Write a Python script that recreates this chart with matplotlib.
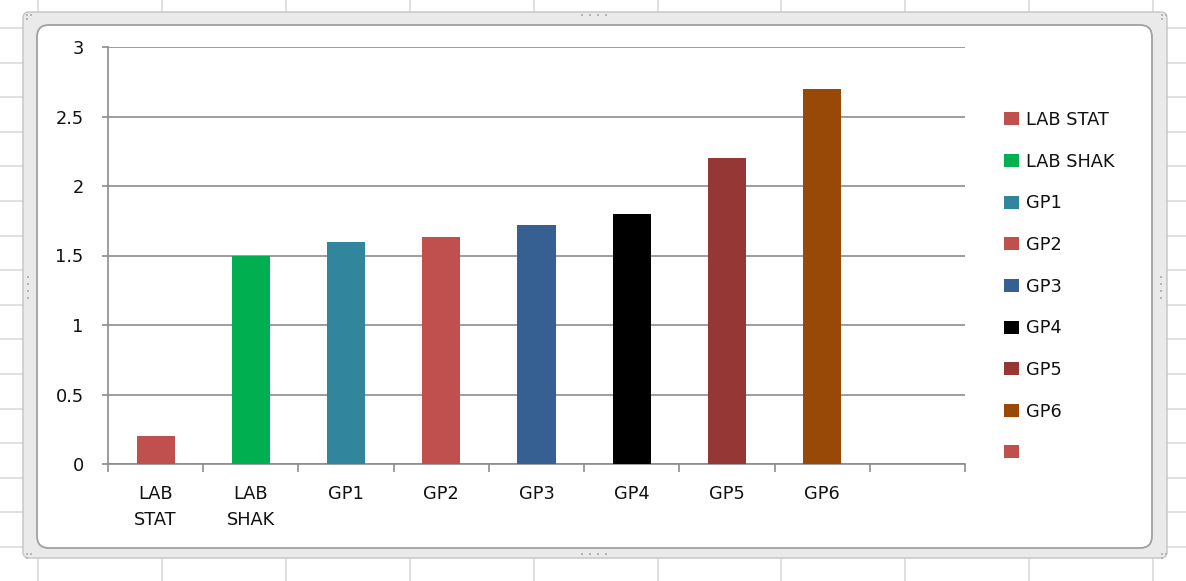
import matplotlib.pyplot as plt
import numpy as np
from matplotlib.patches import FancyBboxPatch, Patch
from matplotlib.ticker import FuncFormatter

# chart data
categories = ["LAB\nSTAT", "LAB\nSHAK", "GP1", "GP2", "GP3", "GP4", "GP5", "GP6", ""]
values = [0.2, 1.5, 1.6, 1.63, 1.72, 1.8, 2.2, 2.7]
bar_colors = ["#C0504D", "#00B050", "#31859C", "#C0504D", "#376092",
              "#000000", "#953735", "#984807"]
series_names = ["LAB STAT", "LAB SHAK", "GP1", "GP2", "GP3", "GP4", "GP5", "GP6", " "]
series_colors = bar_colors + ["#C0504D"]

W, H = 1186, 581
plt.rcParams['font.family'] = ['DejaVu Sans']
FS = 12.8
TXT = "#111111"

fig = plt.figure(figsize=(W / 100, H / 100), dpi=100)

# worksheet behind the chart object (pixel coordinates)
bg = fig.add_axes([0, 0, 1, 1], zorder=0)
bg.set_xlim(0, W)
bg.set_ylim(H, 0)
bg.axis('off')
sheet_cols = 38 + 123.9 * np.arange(10)
sheet_rows = 28 + 34.6 * np.arange(17)
bg.vlines(sheet_cols, 0, H, color="#d9dbdc", lw=1.2, zorder=0)
bg.hlines(sheet_rows, 0, W, color="#d9dbdc", lw=1.2, zorder=0)

# chart object frame
bg.add_patch(FancyBboxPatch((23, 12), 1144, 546,
                            boxstyle="round,pad=0,rounding_size=6",
                            fc="#eaeaea", ec="#c4c4c4", lw=1.0, zorder=1))
bg.add_patch(FancyBboxPatch((37, 25), 1115, 523,
                            boxstyle="round,pad=0,rounding_size=12",
                            fc="white", ec="#a0a0a0", lw=1.3, zorder=2))
# resize grips
grip = dict(s=3, color="#b5b5b5", marker="s", lw=0, zorder=3)
bg.scatter([582, 590, 598, 606], [15] * 4, **grip)
bg.scatter([582, 590, 598, 606], [554] * 4, **grip)
bg.scatter([28] * 4, [277, 284, 291, 298], **grip)
bg.scatter([1161] * 4, [277, 284, 291, 298], **grip)
for cx, cy in [(27, 15), (1162, 15), (27, 554), (1162, 554)]:
    bg.scatter([cx, cx + 4, cx], [cy, cy, cy + 4], **grip)

# plot area
ax = fig.add_axes([108 / W, 117 / H, 857 / W, 417 / H], zorder=1)
ax.patch.set_alpha(0)

x = np.arange(len(values))
ax.bar(x, values, width=0.4, color=bar_colors, zorder=3)

ax.set_xlim(-0.5, len(categories) - 0.5)
ax.set_ylim(0, 3)
ax.set_yticks(np.arange(0, 3.01, 0.5))
ax.yaxis.set_major_formatter(FuncFormatter(lambda v, _: f"{v:g}"))
ax.grid(axis='y', color="#8c8c8c", lw=1.2, zorder=0)

ax.set_xticks(np.arange(-0.5, len(categories), 1))
ax.set_xticklabels([])
ax.set_xticks(np.arange(len(categories)), minor=True)
ax.set_xticklabels(categories, minor=True, fontsize=FS, color=TXT)
for lbl in ax.get_xticklabels(minor=True):
    lbl.set_linespacing(1.6)

ax.tick_params(axis='x', which='major', length=6, width=1.2, color="#8c8c8c")
ax.tick_params(axis='x', which='minor', length=0, pad=15)
ax.tick_params(axis='y', length=4.5, width=1.2, color="#8c8c8c",
               pad=13, labelsize=FS, labelcolor=TXT)

for side in ("top", "right"):
    ax.spines[side].set_visible(False)
for side in ("left", "bottom"):
    ax.spines[side].set_color("#8c8c8c")
    ax.spines[side].set_linewidth(1.2)

handles = [Patch(facecolor=c, edgecolor="none") for c in series_colors]
fig.legend(handles, series_names, loc="upper left",
           bbox_to_anchor=(1004 / W, 1 - 111 / H),
           frameon=False, fontsize=FS, labelcolor=TXT,
           handlelength=0.85, handleheight=0.75, handletextpad=0.4,
           labelspacing=1.33, borderpad=0, borderaxespad=0)

fig.savefig("out.png", dpi=100)
